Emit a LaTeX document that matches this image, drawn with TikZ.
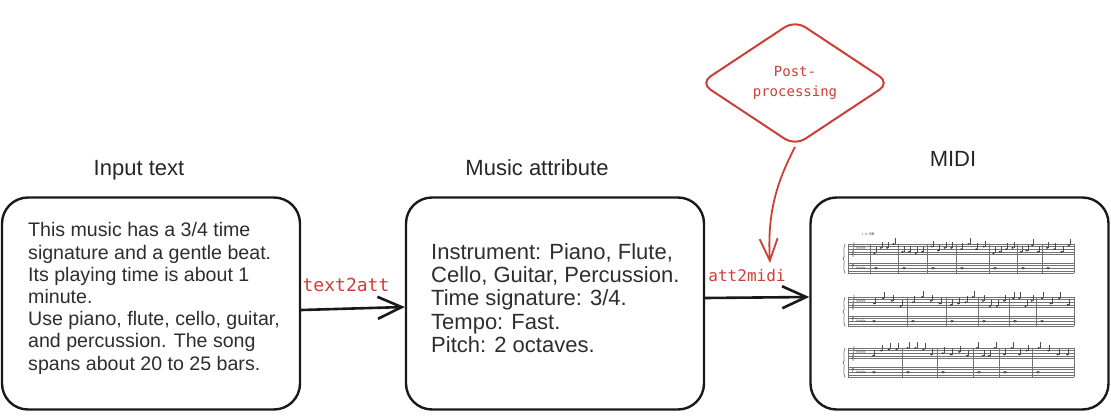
\documentclass[tikz,border=0pt]{standalone}
\usepackage{fontspec}
\setmainfont{Liberation Sans}
\newfontfamily\handfont{DejaVu Sans Mono}
\newfontfamily\symfont{DejaVu Sans}
\usetikzlibrary{arrows.meta,shapes.geometric}
\definecolor{exred}{RGB}{205,62,52}
\definecolor{txtgray}{RGB}{45,45,45}
\newcommand{\drawsystem}[3]{%
  \foreach \k in {0,...,4} {
    \draw[staff] (848,#1+2.6*\k) -- (1074,#1+2.6*\k);
    \draw[staff] (848,#1+19+2.6*\k) -- (1074,#1+19+2.6*\k);
  }
  \draw[staff] (848,#1) -- (848,#1+29.4);
  \draw[staff,line width=0.7pt] (845,#1) .. controls (842,#1+8) and (846,#1+12) .. (843,#1+14.7) .. controls (846,#1+17) and (842,#1+22) .. (845,#1+29.4);
  \draw[staff,line width=0.6pt] (853,#1+12) .. controls (850,#1+8) and (856,#1+4) .. (854,#1-2) -- (853,#1+13);
  \node[font=\symfont\fontsize{5}{5}\selectfont,inner sep=0] at (853,#1+23) {?};
  \node[font=\symfont\fontsize{5}{5}\selectfont,inner sep=0] at (861,#1+4) {♭♭♭♭};
  \node[font=\symfont\fontsize{5}{5}\selectfont,inner sep=0] at (861,#1+24) {♭♭♭♭};
  \foreach \b in {#2} \draw[staff] (\b,#1) -- (\b,#1+29.4);
  \foreach \a/\b in {#3} {
    \foreach \i in {1,...,4} {
      \pgfmathsetmacro{\nx}{\a+(\b-\a)*(\i-0.3)/4.4}
      \pgfmathsetmacro{\ny}{#1+1.3*random(0,7)}
      \fill[black!80] (\nx,\ny) ellipse (1.3pt and 0.9pt);
      \draw[black!70,line width=0.3pt] (\nx+1.2,\ny) -- (\nx+1.2,\ny-6);
    }
    \draw[black!75,line width=0.5pt] (\a+6,#1+19+2.6*2) ellipse (1.7pt and 1pt);
  }
}
\begin{document}
\begin{tikzpicture}[x=1pt,y=-1pt,
  box/.style={draw=black!90,line width=2.4pt,rounded corners=26pt,minimum width=298pt,minimum height=212pt,inner sep=0},
  title/.style={font=\fontsize{22}{26}\selectfont,text=black!85,inner sep=0,anchor=base},
  boxtext/.style={anchor=north west,align=left,inner sep=0,text=txtgray},
  arr/.style={draw=black!90,line width=2.6pt,-{Straight Barb[length=24pt,width=22pt,line width=2.6pt]}},
  redarr/.style={draw=exred,line width=1.8pt,-{Straight Barb[length=22pt,width=18pt,line width=1.8pt]}},
  lab/.style={font=\handfont\fontsize{16}{18}\selectfont,text=exred,inner sep=0},
  staff/.style={draw=black!55,line width=0.35pt}]
\useasboundingbox (0,0) rectangle (1111,415);

\node[box] (b1) at (151,303.5) {};
\node[box] (b2) at (555,303.5) {};
\node[box] (b3) at (959.5,303.5) {};

\node[title] (t1) at (139,175) {Input text};
\node[title] (t2) at (537,175) {Music attribute};
\node[title] (t3) at (953,166) {MIDI};

\node[boxtext,font=\fontsize{19.6}{22.2}\selectfont] (x1) at (28,222.5) {This music has a 3/4 time\\signature and a gentle beat.\\Its playing time is about 1\\minute.\\Use piano, flute, cello, guitar,\\and percussion. The song\\spans about 20 to 25 bars.};
\node[boxtext,font=\fontsize{22}{23.3}\selectfont] (x2) at (431,243) {Instrument: Piano, Flute,\\Cello, Guitar, Percussion.\\Time signature: 3/4.\\Tempo: Fast.\\Pitch: 2 octaves.};

\draw[arr] ([yshift=-6.5pt]b1.east) -- ([yshift=-3.5pt]b2.west);
\draw[arr] ([yshift=5.5pt]b2.east) -- ([yshift=6.5pt]b3.west);
\node[lab,font=\handfont\fontsize{18}{20}\selectfont] (l1) at (346,285) {text2att};
\node[lab] (l2) at (747,276) {att2midi};

\node[diamond,draw=exred,line width=2pt,rounded corners=12pt,minimum width=190pt,minimum height=126pt,inner sep=0,
      font=\handfont\fontsize{14}{20}\selectfont,text=exred,align=center] (pp) at (795,83) {Post-\\processing};
\coordinate (tip) at (770,263);
\draw[redarr] (pp.south) .. controls (778,180) and (767,210) .. (tip);

\pgfmathsetseed{11}
\node[font=\symfont\fontsize{4}{4}\selectfont,inner sep=0,text=black!70] (tempo) at (868,234) {♩ = 66};
\drawsystem{244}{870,898,927,956,989,1017,1042,1074}{870/898,898/927,927/956,956/989,989/1017,1017/1042,1042/1074}
\drawsystem{297}{907,946,978,1009,1036,1074}{868/907,907/946,946/978,978/1009,1009/1036,1036/1074}
\drawsystem{348}{902,937,973,999,1032,1074}{868/902,902/937,937/973,973/999,999/1032,1032/1074}
\end{tikzpicture}
\end{document}
